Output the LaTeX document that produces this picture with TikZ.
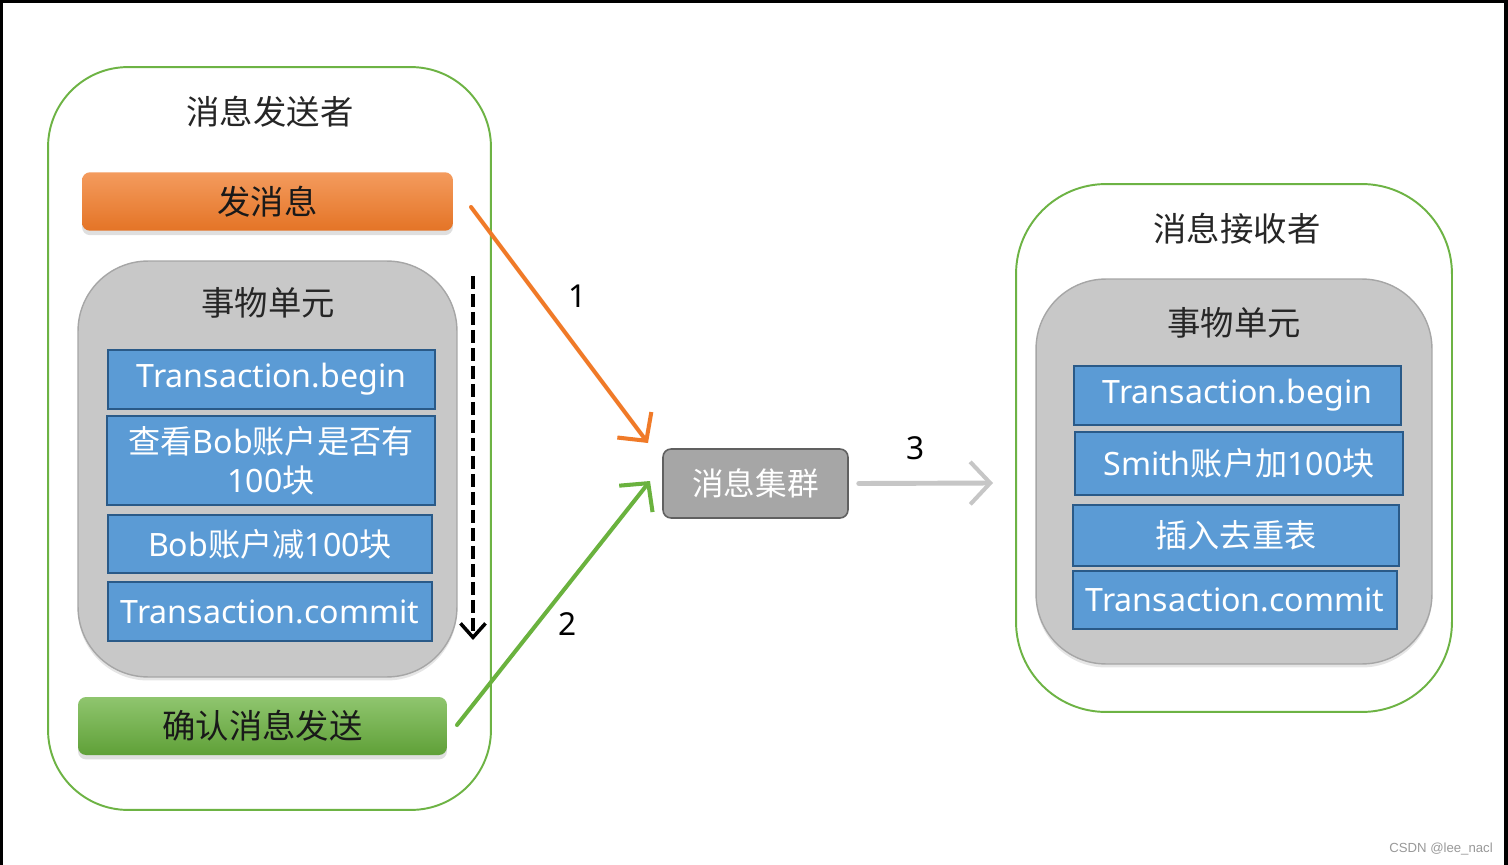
\documentclass[tikz,border=0pt]{standalone}
\usepackage{fontspec}
\setmainfont{Noto Sans}
\newfontfamily\cjk{Noto Sans CJK SC}
\newfontfamily\wmfont{Liberation Sans}
\newcommand{\zh}[1]{{\cjk #1}}
\usetikzlibrary{arrows.meta,shadows}

\definecolor{framegreen}{HTML}{6DB344}
\definecolor{sendorange}{HTML}{F07A28}
\definecolor{okgreen}{HTML}{6AB23E}
\definecolor{stepblue}{HTML}{5B9BD5}
\definecolor{stepedge}{HTML}{2A5A88}
\definecolor{unitgray}{HTML}{C8C8C8}
\definecolor{clustergray}{HTML}{A6A6A6}
\definecolor{textdark}{HTML}{262626}

\begin{document}
\begin{tikzpicture}[x=0.02cm,y=-0.02cm,
    side/.style={draw=framegreen,line width=1.1pt,rounded corners=1.6cm,inner sep=0pt},
    unit/.style={draw=gray!70,fill=unitgray,line width=0.8pt,rounded corners=1.4cm,inner sep=0pt,
        drop shadow={opacity=0.2,shadow xshift=0pt,shadow yshift=-2pt}},
    stepbox/.style={draw=stepedge,fill=stepblue,line width=1pt,text=white,font=\fontsize{18.3}{22}\selectfont,
        minimum width=6.54cm,minimum height=1.18cm,inner sep=0pt,align=center},
    title/.style={text=textdark,font=\cjk\fontsize{19}{23}\selectfont},
    bar/.style={rounded corners=0.16cm,minimum height=1.17cm,inner sep=0pt,text=black!90,
        font=\cjk\fontsize{19}{23}\selectfont,drop shadow={opacity=0.25,shadow xshift=0pt,shadow yshift=-2.5pt}},
    flow/.style={line width=2.3pt,line cap=round,-{Straight Barb[length=0.4cm,width=0.85cm,line width=2.3pt]}},
    num/.style={font=\fontsize{18}{22}\selectfont,text=black}]

\useasboundingbox (0,0) rectangle (1508,865);
\fill[white] (0,0) rectangle (1508,865);
\draw[line width=2pt] (1.5,865) -- (1.5,1.5) -- (1506,1.5) -- (1506,865);

% sender side
\node[side,minimum width=8.86cm,minimum height=14.86cm] (sender) at (269.5,438.5) {};
\node[title] (sendertitle) at (270,112) {消息发送者};
\node[bar,top color=sendorange!75!white,bottom color=sendorange!95!black,minimum width=7.42cm]
    (send) at (267.5,201.5) {发消息};
\node[unit,minimum width=7.58cm,minimum height=8.32cm] (unitL) at (267.5,469) {};
\node[title] (unitLtitle) at (268,303) {事物单元};
\node[stepbox] (beginL) at (271.5,379.5) {Transaction.begin};
\node[stepbox,minimum width=6.56cm,minimum height=1.78cm] (check) at (271,460.5)
    {\zh{查看}Bob\zh{账户是否有}\\100\zh{块}};
\node[stepbox,minimum width=6.48cm,minimum height=1.16cm] (minus) at (270,544) {Bob\zh{账户减}100\zh{块}};
\node[stepbox,minimum width=6.48cm] (commitL) at (270,611.5) {Transaction.commit};
\node[bar,top color=okgreen!75!white,bottom color=okgreen!90!black,minimum width=7.38cm,minimum height=1.16cm]
    (confirm) at (262.5,726) {确认消息发送};

\coordinate (runtop) at (473,276);
\coordinate (runend) at (473,640);
\draw[line width=2.2pt,dash pattern=on 0.26cm off 0.1cm,
    -{Straight Barb[length=0.28cm,width=0.5cm,line width=2pt]}] (runtop) -- (runend);

% broker
\node[draw=gray!75!black,fill=clustergray,line width=0.9pt,rounded corners=0.16cm,
    minimum width=3.7cm,minimum height=1.38cm,text=white,font=\cjk\fontsize{18}{22}\selectfont]
    (cluster) at (755.5,483.5) {消息集群};

\coordinate (sendout) at (471,207);
\coordinate (sendin) at (648,443);
\coordinate (okout) at (457,725);
\coordinate (okin) at (650,481);
\coordinate (pushend) at (993,483);

\draw[flow,draw=sendorange] (sendout) -- (sendin);
\draw[flow,draw=okgreen] (okout) -- (okin);
\draw[flow,draw=gray!45,line width=2.8pt] (cluster.east) ++(10,0) -- (pushend);
\node[num] (n1) at (578,296) {1};
\node[num] (n2) at (568,624) {2};
\node[num] (n3) at (916,448) {3};

% receiver side
\node[side,rounded corners=1.8cm,minimum width=8.72cm,minimum height=10.56cm] (receiver) at (1234,448) {};
\node[title] (receivertitle) at (1237,229) {消息接收者};
\node[unit,minimum width=7.92cm,minimum height=7.7cm] (unitR) at (1234,471.5) {};
\node[title] (unitRtitle) at (1234,323) {事物单元};
\node[stepbox] (beginR) at (1237.5,395.5) {Transaction.begin};
\node[stepbox,minimum width=6.56cm,minimum height=1.26cm] (plus) at (1239,463.5) {Smith\zh{账户加}100\zh{块}};
\node[stepbox,minimum width=6.52cm,minimum height=1.22cm] (dedup) at (1236,535.5) {\zh{插入去重表}};
\node[stepbox,minimum width=6.48cm,minimum height=1.16cm] (commitR) at (1235,600) {Transaction.commit};

\node[text=gray!80,font=\wmfont\fontsize{7.5}{9}\selectfont] (mark) at (1441,849) {CSDN @lee\_nacl};
\end{tikzpicture}
\end{document}
